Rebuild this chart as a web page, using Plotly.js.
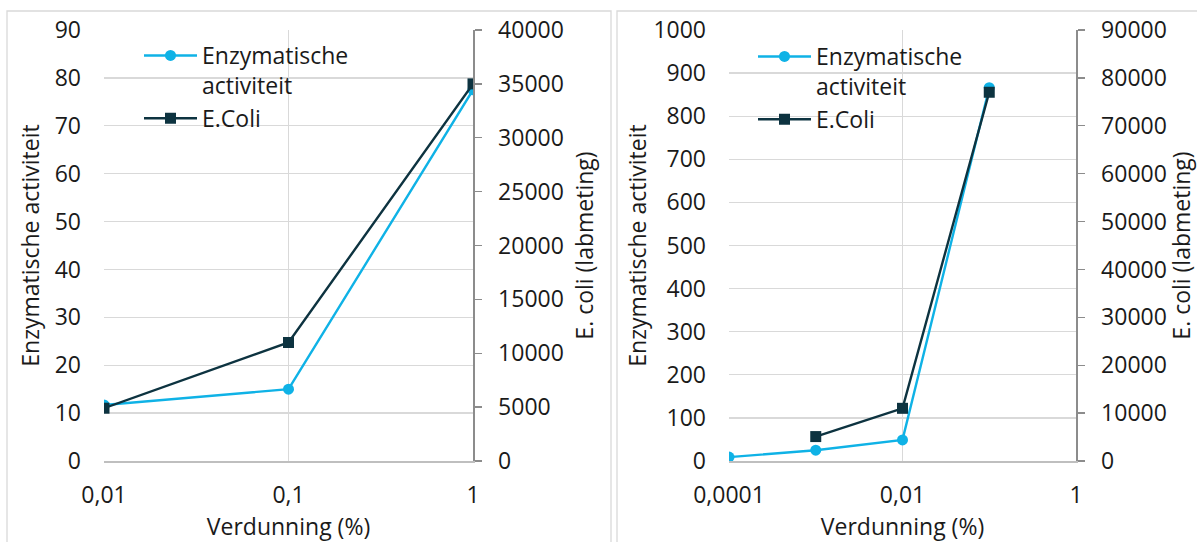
<!DOCTYPE html>
<html>
<head>
<meta charset="utf-8">
<script src="https://cdn.plot.ly/plotly-3.0.1.min.js"></script>
<style>html,body{margin:0;padding:0;background:#fff;}#chart{width:1197px;height:542px;}</style>
</head>
<body>
<div id="chart"></div>
<script>
// ---- data ----
const seriesNames = ["Enzymatische<br>activiteit", "E.Coli"];

// left chart
const dilutionLeft = [0.01, 0.1, 1];
const enzymLeft = [11.7, 15, 77.5];
const ecoliLeft = [4900, 11000, 35000];
const xTickValsLeft = [0.01, 0.1, 1];
const xTickTextLeft = ["0,01", "0,1", "1"];

// right chart
const dilutionRightEnzym = [0.0001, 0.001, 0.01, 0.1];
const enzymRight = [9, 25, 49, 866];
const dilutionRightEcoli = [0.001, 0.01, 0.1];
const ecoliRight = [5100, 11000, 77000];
const xTickValsRight = [0.0001, 0.01, 1];
const xTickTextRight = ["0,0001", "0,01", "1"];

const xTitle = "Verdunning (%)";
const yTitleLeft = "Enzymatische activiteit";
const yTitleRight = "E. coli (labmeting)";

// ---- styling ----
const W = 1197, H = 542;
const FONT = "Open Sans";
const FS = 23;
const TXT = "#1a1a1a";
const BLUE = "#0fb2e6";
const DARK = "#0d3340";
const GRID = "#d9d9d9";

const px = v => v / W;
const py = v => 1 - v / H;

const yDom = [py(461), py(30)];
const xDomL = [px(104), px(473)];
const xDomR = [px(729), px(1076)];

function enzTrace(x, y, xa, ya, lg) {
  return {x: x, y: y, xaxis: xa, yaxis: ya, type: "scatter", mode: "lines+markers",
    name: seriesNames[0], legend: lg,
    line: {color: BLUE, width: 2.4}, marker: {color: BLUE, size: 11, symbol: "circle"}};
}
function ecoTrace(x, y, xa, ya, lg) {
  return {x: x, y: y, xaxis: xa, yaxis: ya, type: "scatter", mode: "lines+markers",
    name: seriesNames[1], legend: lg,
    line: {color: DARK, width: 2.4}, marker: {color: DARK, size: 11, symbol: "square"}};
}

const data = [
  enzTrace(dilutionLeft, enzymLeft, "x", "y", "legend"),
  ecoTrace(dilutionLeft, ecoliLeft, "x", "y2", "legend"),
  enzTrace(dilutionRightEnzym, enzymRight, "x2", "y3", "legend2"),
  ecoTrace(dilutionRightEcoli, ecoliRight, "x2", "y4", "legend2")
];

function xAxis(dom, anchor, vals, text, range) {
  return {domain: dom, anchor: anchor, type: "log", range: range,
    tickvals: vals, ticktext: text, showgrid: true, gridcolor: GRID, gridwidth: 1.3,
    showline: true, linecolor: "#bfbfbf", linewidth: 1.5, ticks: "", zeroline: false,
    ticklabelstandoff: 13, automargin: false,
    tickfont: {family: FONT, size: FS, color: TXT},
    title: {text: xTitle, font: {family: FONT, size: FS, color: TXT}, standoff: 8}};
}
function yLeft(anchor, range, dtick, standoff) {
  return {domain: yDom, anchor: anchor, range: range, dtick: dtick,
    showgrid: true, gridcolor: GRID, gridwidth: 1.3, showline: false, zeroline: false, ticks: "",
    ticklabelstandoff: 22, automargin: false,
    tickfont: {family: FONT, size: FS, color: TXT},
    title: {text: yTitleLeft, font: {family: FONT, size: FS, color: TXT}, standoff: standoff}};
}
function yRight(anchor, over, range, dtick, standoff) {
  return {domain: yDom, anchor: anchor, overlaying: over, side: "right", range: range, dtick: dtick,
    tickformat: "d",
    showgrid: false, showline: true, linecolor: "#8c8c8c", linewidth: 1.5, zeroline: false,
    ticks: "outside", ticklen: 7, tickcolor: "#8c8c8c", tickwidth: 1.3,
    ticklabelstandoff: 12, automargin: false,
    tickfont: {family: FONT, size: FS, color: TXT},
    title: {text: yTitleRight, font: {family: FONT, size: FS, color: TXT}, standoff: standoff}};
}

const legendBase = {bgcolor: "rgba(0,0,0,0)", borderwidth: 0, valign: "top", itemwidth: 53,
  font: {family: FONT, size: FS, color: TXT}, xanchor: "left", yanchor: "top", tracegroupgap: 0};

const layout = {
  width: W, height: H,
  margin: {l: 0, r: 0, t: 0, b: 0},
  paper_bgcolor: "#fff", plot_bgcolor: "#fff",
  showlegend: true,
  xaxis: xAxis(xDomL, "y", xTickValsLeft, xTickTextLeft, [-2, 0]),
  yaxis: yLeft("x", [0, 90], 10, 8),
  yaxis2: yRight("x", "y", [0, 40000], 5000, 14),
  xaxis2: xAxis(xDomR, "y3", xTickValsRight, xTickTextRight, [-4, 0]),
  yaxis3: yLeft("x2", [0, 1000], 100, 0),
  yaxis4: yRight("x2", "y3", [0, 90000], 10000, 13),
  legend: Object.assign({}, legendBase, {x: px(139), y: py(34)}),
  legend2: Object.assign({}, legendBase, {x: px(753), y: py(35)}),
  shapes: [
    {type: "rect", xref: "paper", yref: "paper", x0: px(7), x1: px(611), y0: -0.2, y1: py(11),
      line: {color: GRID, width: 1.3}, layer: "below"},
    {type: "rect", xref: "paper", yref: "paper", x0: px(617), x1: 1.2, y0: -0.2, y1: py(11),
      line: {color: GRID, width: 1.3}, layer: "below"}
  ]
};

Plotly.newPlot("chart", data, layout, {staticPlot: true, displayModeBar: false});
</script>
</body>
</html>
